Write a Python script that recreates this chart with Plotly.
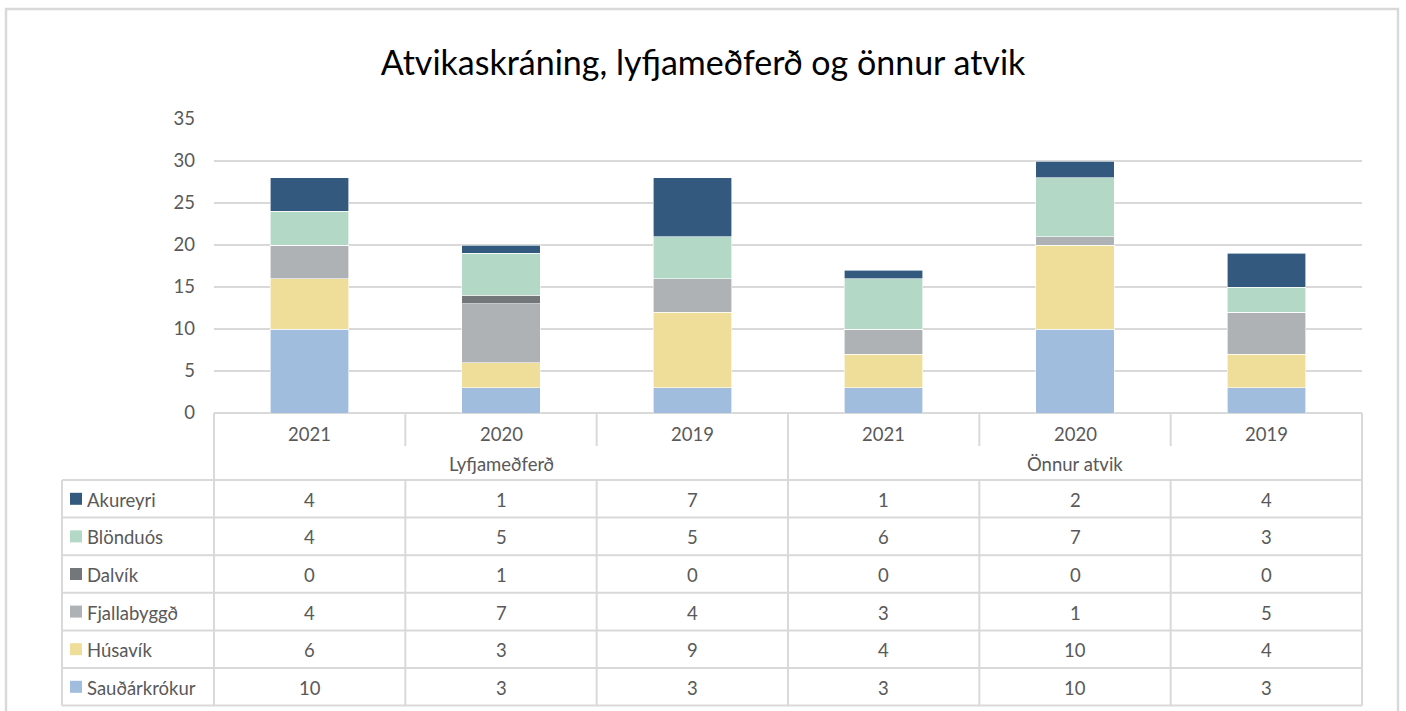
import plotly.graph_objects as go

# ---- data ----
groups = ["Lyfjameðferð", "Önnur atvik"]
years = ["2021", "2020", "2019", "2021", "2020", "2019"]

# stacked from bottom to top
series_names = ["Sauðárkrókur", "Húsavík", "Fjallabyggð", "Dalvík", "Blönduós", "Akureyri"]
sauðárkrókur = [10, 3, 3, 3, 10, 3]
húsavík = [6, 3, 9, 4, 10, 4]
fjallabyggð = [4, 7, 4, 3, 1, 5]
dalvík = [0, 1, 0, 0, 0, 0]
blönduós = [4, 5, 5, 6, 7, 3]
akureyri = [4, 1, 7, 1, 2, 4]
series_values = [sauðárkrókur, húsavík, fjallabyggð, dalvík, blönduós, akureyri]
series_colors = ["#A1BDDE", "#EFDE9A", "#AEB2B5", "#73777A", "#B3D9C6", "#335A7E"]

# table rows are listed top to bottom (reverse of stacking order)
table_order = list(range(len(series_names)))[::-1]

W, H = 1406, 711
FONT = "Lato, 'Open Sans', sans-serif"
TXT = "#595959"
GRID = "#D9D9D9"
FS = 18.5

def px(xp):
    return xp / W

def py(yp):
    return 1 - yp / H

plot_left, plot_right = 214, 1362
plot_top, plot_bottom = 119, 413
x_pos = list(range(len(years)))

fig = go.Figure()
for name, vals, col in zip(series_names, series_values, series_colors):
    fig.add_trace(go.Bar(
        x=x_pos, y=vals, name=name, width=0.41,
        marker=dict(color=col, line=dict(color="white", width=0.6)),
        showlegend=False,
    ))

shapes = []
annotations = []

def hline(x0, x1, y, w=2):
    shapes.append(dict(type="line", xref="paper", yref="paper",
                       x0=px(x0), x1=px(x1), y0=py(y), y1=py(y),
                       line=dict(color=GRID, width=w), layer="below"))

def vline(x, y0, y1, w=2):
    shapes.append(dict(type="line", xref="paper", yref="paper",
                       x0=px(x), x1=px(x), y0=py(y0), y1=py(y1),
                       line=dict(color=GRID, width=w), layer="below"))

# outer chart border
shapes.append(dict(type="rect", xref="paper", yref="paper",
                   x0=px(6), x1=px(1398), y0=-0.1, y1=py(9),
                   line=dict(color=GRID, width=2.5), fillcolor="rgba(0,0,0,0)"))

# data table geometry
head_top = plot_bottom
year_row_bottom = 446
group_row_bottom = 480
row_h = 37.6
row_tops = [group_row_bottom + i * row_h for i in range(len(series_names))]
table_bottom = group_row_bottom + len(series_names) * row_h
legend_left = 62
col_w = (plot_right - plot_left) / len(years)
col_edges = [plot_left + i * col_w for i in range(len(years) + 1)]

# horizontal lines
hline(plot_left, plot_right, head_top)
hline(legend_left, plot_right, group_row_bottom)
for rt in row_tops[1:]:
    hline(legend_left, plot_right, rt)
hline(legend_left, plot_right, table_bottom)

# vertical lines
vline(legend_left, group_row_bottom, table_bottom)
n_per_group = len(years) // len(groups)
for i, xe in enumerate(col_edges):
    if i % n_per_group == 0:
        vline(xe, head_top, table_bottom)
    else:
        vline(xe, head_top, year_row_bottom)
        vline(xe, group_row_bottom, table_bottom)

txt_font = dict(family=FONT, size=FS, color=TXT)

# year labels
for i, yr in enumerate(years):
    annotations.append(dict(x=i, xref="x", y=py((head_top + year_row_bottom) / 2 + 4), yref="paper",
                            yanchor="middle", text=yr, showarrow=False, font=txt_font))
# group labels
for g, gname in enumerate(groups):
    cx = g * n_per_group + (n_per_group - 1) / 2
    annotations.append(dict(x=cx, xref="x", y=py((year_row_bottom + group_row_bottom) / 2 + 1), yref="paper",
                            yanchor="middle", text=gname, showarrow=False, font=txt_font))

# table rows: legend key + values
for r, si in enumerate(table_order):
    top = row_tops[r]
    cy = top + row_h / 2
    shapes.append(dict(type="rect", xref="paper", yref="paper",
                       x0=px(70), x1=px(82), y0=py(cy + 6), y1=py(cy - 6),
                       fillcolor=series_colors[si], line=dict(width=0)))
    annotations.append(dict(x=px(85), xref="paper", y=py(cy + 1), yref="paper",
                            xanchor="left", yanchor="middle",
                            text=series_names[si], showarrow=False, font=txt_font))
    for i, v in enumerate(series_values[si]):
        annotations.append(dict(x=i, xref="x", y=py(cy + 1), yref="paper", yanchor="middle",
                                text=str(v), showarrow=False, font=txt_font))

fig.update_layout(
    width=W, height=H,
    margin=dict(l=0, r=0, t=0, b=0, pad=0, autoexpand=False),
    paper_bgcolor="white", plot_bgcolor="white",
    barmode="stack",
    title=dict(text="Atvikaskráning, lyfjameðferð og önnur atvik",
               x=0.5, xanchor="center", y=py(63), yanchor="middle",
               font=dict(family=FONT, size=34, color="#000000")),
    xaxis=dict(domain=[px(plot_left), px(plot_right)], range=[-0.5, len(years) - 0.5],
               showticklabels=False, showgrid=False, zeroline=False, showline=False,
               fixedrange=True),
    yaxis=dict(domain=[py(plot_bottom), py(plot_top)], range=[0, 35], dtick=5,
               showgrid=True, gridcolor=GRID, gridwidth=2, zeroline=False, showline=False,
               tickfont=dict(family=FONT, size=FS, color=TXT), ticklabelstandoff=18,
               fixedrange=True),
    shapes=shapes,
    annotations=annotations,
)

fig.write_html("out.html")
